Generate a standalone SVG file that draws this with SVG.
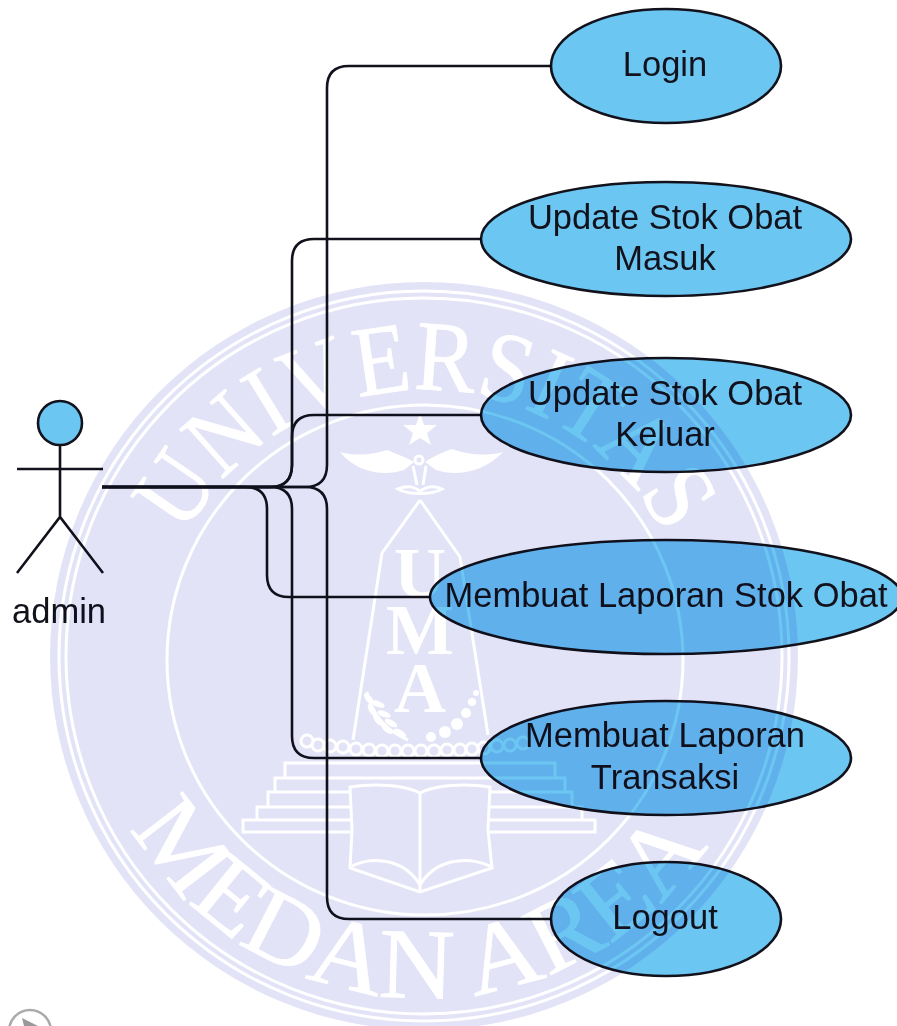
<svg xmlns="http://www.w3.org/2000/svg" width="897" height="1026" viewBox="0 0 897 1026">
<style>
.wl{fill:none;stroke:#fff;stroke-width:3}
.wf{fill:#fff}
.wt{font-family:"Liberation Serif",serif;fill:#fff;stroke:#fff;stroke-width:.8}
.uma{font-family:"Liberation Serif",serif;font-weight:bold;font-size:72px;fill:#fff;text-anchor:middle}
.fg{mix-blend-mode:multiply}
.edge{fill:none;stroke:#12121c;stroke-width:2.6}
.uc{fill:#6cc6f2;stroke:#12121c;stroke-width:2.6}
.lb{font-family:"Liberation Sans",Arial,sans-serif;font-size:34.5px;fill:#12121c;text-anchor:middle}
</style>
<defs>
<path id="arcTop" d="M155 660A270 270 0 0 1 695 660"/>
<path id="arcBot" d="M87 660A338 338 0 0 0 763 660"/>
</defs>
<rect width="897" height="1026" fill="#fff"/>
<g id="watermark">
<circle cx="424" cy="656" r="374" fill="#e3e3f8"/>
<circle class="wl" cx="424" cy="656" r="365" stroke-width="2.5"/>
<circle class="wl" cx="424" cy="656" r="358" stroke-width="2.5"/>
<ellipse class="wl" cx="425" cy="660" rx="258" ry="255"/>
<text class="wt" font-size="100"><textPath href="#arcTop" startOffset="50%" text-anchor="middle" textLength="590" lengthAdjust="spacingAndGlyphs">UNIVERSITAS</textPath></text>
<text class="wt" font-size="100"><textPath href="#arcBot" startOffset="49%" text-anchor="middle" textLength="690" lengthAdjust="spacingAndGlyphs">MEDAN AREA</textPath></text>
<polygon class="wf" points="420,413 424,425 437,425 427,433 431,445 420,438 409,445 413,433 403,425 416,425"/>
<path class="wf" d="M340 452C358 457 374 454 387 450C399 455 408 458 414 462L404 470C385 476 358 474 340 452Z"/>
<path class="wf" d="M503 452C485 457 466 454 452 449C440 453 431 458 425 462L436 470C455 476 482 474 503 452Z"/>
<circle class="wl" cx="419" cy="460" r="4" stroke-width="2"/>
<path class="wl" d="M413 466L417 485M426 466L423 485M398 489C410 484 415 488 420 491C425 488 432 484 442 489C432 495 408 495 398 489Z" stroke-width="2.5"/>
<path class="wl" d="M420 500L382 553L353 740M420 500L460 557L488 735"/>
<text class="uma" x="420" y="597">U</text>
<text class="uma" x="420" y="654">M</text>
<text class="uma" x="420" y="712">A</text>
<path class="wl" d="M367 692C372 715 385 730 408 740" stroke-width="2"/>
<g class="wf">
<ellipse cx="369" cy="699" rx="7" ry="3" transform="rotate(50 369 699)"/>
<ellipse cx="378" cy="704" rx="7" ry="3" transform="rotate(20 378 704)"/>
<ellipse cx="372" cy="710" rx="7" ry="3" transform="rotate(60 372 710)"/>
<ellipse cx="384" cy="714" rx="7" ry="3" transform="rotate(20 384 714)"/>
<ellipse cx="378" cy="720" rx="7" ry="3" transform="rotate(50 378 720)"/>
<ellipse cx="391" cy="723" rx="7" ry="3" transform="rotate(30 391 723)"/>
<ellipse cx="387" cy="729" rx="7" ry="3" transform="rotate(40 387 729)"/>
<ellipse cx="400" cy="733" rx="7" ry="3" transform="rotate(30 400 733)"/>
<circle cx="431" cy="737" r="5"/><circle cx="445" cy="732" r="6"/><circle cx="457" cy="724" r="6"/><circle cx="466" cy="713" r="5"/><circle cx="472" cy="702" r="4"/><circle cx="476" cy="693" r="3"/>
</g>
<g class="wl" stroke-width="2">
<circle cx="307" cy="741" r="6"/><circle cx="318" cy="745" r="6"/><circle cx="330" cy="746" r="6"/><circle cx="343" cy="747" r="6"/><circle cx="356" cy="749" r="6"/><circle cx="369" cy="750" r="6"/><circle cx="382" cy="751" r="6"/><circle cx="395" cy="751" r="6"/><circle cx="408" cy="751" r="6"/><circle cx="421" cy="751" r="6"/><circle cx="434" cy="751" r="6"/><circle cx="447" cy="750" r="6"/><circle cx="460" cy="750" r="6"/><circle cx="472" cy="749" r="6"/><circle cx="484" cy="748" r="6"/><circle cx="497" cy="746" r="6"/><circle cx="510" cy="745" r="6"/><circle cx="523" cy="743" r="6"/>
</g>
<path class="wl" d="M285 778V763H555V778M275 792V778H565V792M268 807V792H350M490 792H572V807M257 820V807H350M490 807H582V820M350 820H243V832H350M490 820H595V832H490"/>
<path class="wl" d="M350 787C375 783 405 785 420 793C435 785 465 783 490 787L488 830L492 868L420 892L350 868L352 830ZM420 793V892M352 866C375 855 405 860 420 885C435 860 465 855 490 866"/>
</g>
<g id="connectors" class="fg">
<path class="edge" d="M102 487H305Q327 487 327 465V88Q327 66 349 66H551"/>
<path class="edge" d="M102 487H270Q292 487 292 465V261Q292 239 314 239H481"/>
<path class="edge" d="M102 487H270Q292 487 292 465V437Q292 415 314 415H481"/>
<path class="edge" d="M102 487H245Q267 487 267 509V575Q267 597 289 597H430"/>
<path class="edge" d="M102 487H270Q292 487 292 509V736Q292 758 314 758H481"/>
<path class="edge" d="M102 487H305Q327 487 327 509V897Q327 919 349 919H551"/>
</g>
<g id="admin" class="fg">
<circle class="uc" cx="60" cy="423" r="22"/>
<path class="edge" d="M60 445V517M17 469H103M17 573L60 517L103 573"/>
<text class="lb" x="59" y="623">admin</text>
</g>
<g id="login" class="fg">
<ellipse class="uc" cx="666" cy="66" rx="115" ry="57"/>
<text class="lb" x="665" y="76">Login</text>
</g>
<g id="update-masuk" class="fg">
<ellipse class="uc" cx="666" cy="239" rx="185" ry="57"/>
<text class="lb" x="665" y="229">Update Stok Obat</text>
<text class="lb" x="665" y="270">Masuk</text>
</g>
<g id="update-keluar" class="fg">
<ellipse class="uc" cx="666" cy="415" rx="185" ry="57"/>
<text class="lb" x="665" y="405">Update Stok Obat</text>
<text class="lb" x="665" y="446">Keluar</text>
</g>
<g id="laporan-stok" class="fg">
<ellipse class="uc" cx="666" cy="597" rx="236" ry="57"/>
<text class="lb" x="666" y="607">Membuat Laporan Stok Obat</text>
</g>
<g id="laporan-transaksi" class="fg">
<ellipse class="uc" cx="666" cy="758" rx="185" ry="57"/>
<text class="lb" x="665" y="747">Membuat Laporan</text>
<text class="lb" x="665" y="789">Transaksi</text>
</g>
<g id="logout" class="fg">
<ellipse class="uc" cx="666" cy="919" rx="115" ry="57"/>
<text class="lb" x="665" y="929">Logout</text>
</g>
<g id="corner-mark">
<circle cx="30" cy="1031" r="21" fill="none" stroke="#aaa" stroke-width="2.5"/>
<polygon points="22,1018 38,1026 24,1026" fill="#999"/>
</g>
</svg>
